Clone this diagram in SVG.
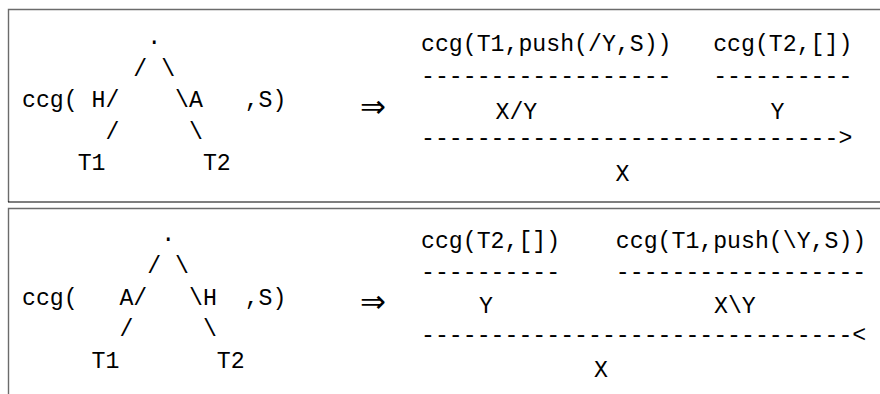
<svg xmlns="http://www.w3.org/2000/svg" width="880" height="394" viewBox="0 0 880 394">
<style>
.t{font-family:"Liberation Mono","DejaVu Sans Mono",monospace;font-size:23.2px;fill:#000;white-space:pre}
.arr{font-family:"DejaVu Sans","Liberation Serif",serif;font-size:31px;fill:#000}
.frame{stroke:#6b6b6b;stroke-width:1.4;fill:none}
.sep{stroke:#000;stroke-width:1.2;fill:none}
</style>
<rect width="880" height="394" fill="#fff"/>
<g id="frames">
<path class="frame" d="M8.5,202 V9.5 H880"/>
<line class="sep" x1="8" y1="202" x2="880" y2="202"/>
<path class="frame" d="M8.5,394 V208.5 H880"/>
</g>
<g id="panel-top">
<g id="tree-top">
<text class="t" x="22" y="44" xml:space="preserve">         .</text>
<text class="t" x="22" y="76" xml:space="preserve">        / \</text>
<text class="t" x="22" y="107" xml:space="preserve">ccg( H/    \A   ,S)</text>
<text class="t" x="22" y="139" xml:space="preserve">      /     \</text>
<text class="t" x="22" y="170" xml:space="preserve">    T1       T2</text>
</g>
<text class="arr" x="360" y="117">⇒</text>
<g id="derivation-top">
<text class="t" x="421" y="51" xml:space="preserve">ccg(T1,push(/Y,S))   ccg(T2,[])</text>
<text class="t" x="421" y="83" xml:space="preserve">------------------   ----------</text>
<text class="t" x="495.5" y="119">X/Y</text>
<text class="t" x="770.5" y="119">Y</text>
<text class="t" x="421" y="145" xml:space="preserve">------------------------------&gt;</text>
<text class="t" x="615.5" y="181">X</text>
</g>
</g>
<g id="panel-bottom">
<g id="tree-bottom">
<text class="t" x="22" y="241" xml:space="preserve">          .</text>
<text class="t" x="22" y="273" xml:space="preserve">         / \</text>
<text class="t" x="22" y="305" xml:space="preserve">ccg(   A/   \H  ,S)</text>
<text class="t" x="22" y="336" xml:space="preserve">       /     \</text>
<text class="t" x="22" y="368" xml:space="preserve">     T1       T2</text>
</g>
<text class="arr" x="360" y="312">⇒</text>
<g id="derivation-bottom">
<text class="t" x="421" y="248" xml:space="preserve">ccg(T2,[])    ccg(T1,push(\Y,S))</text>
<text class="t" x="421" y="279" xml:space="preserve">----------    ------------------</text>
<text class="t" x="479" y="313">Y</text>
<text class="t" x="714" y="313">X\Y</text>
<text class="t" x="421" y="342" xml:space="preserve">-------------------------------&lt;</text>
<text class="t" x="594" y="377">X</text>
</g>
</g>
</svg>
